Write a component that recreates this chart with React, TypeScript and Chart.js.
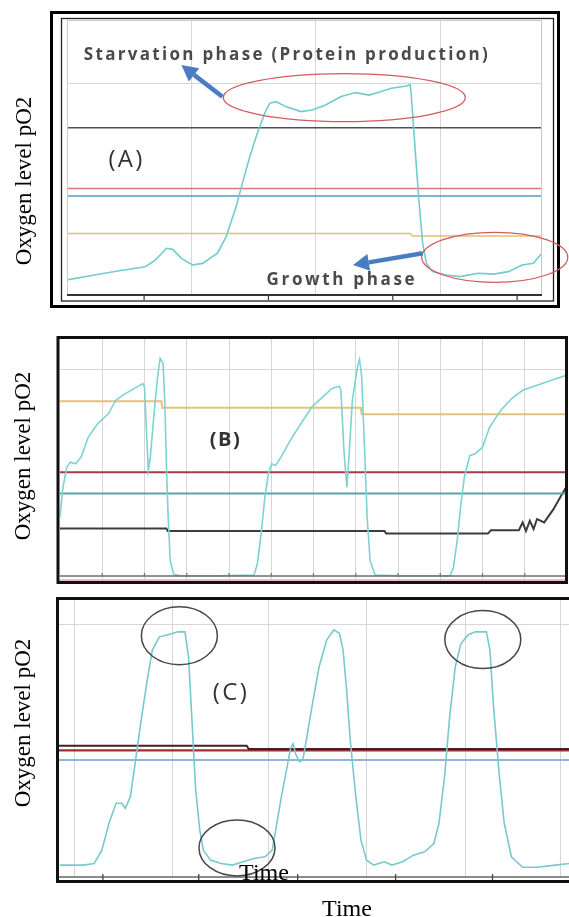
import React, { useEffect, useRef } from "react";
import { Chart, registerables } from "chart.js";

Chart.register(...registerables);

// ---------------- Texts ----------------
const yAxisTitle = "Oxygen level pO2";
const xAxisTitle = "Time";
const starvationLabel = "Starvation phase (Protein production)";
const growthLabel = "Growth phase";
const panelLabels = ["(A)", "(B)", "(C)"];

// ---------------- Panel A (time units 0..3.82, level 0..100) ----------------
const aTime = [0, 0.22, 0.42, 0.63, 0.71, 0.8, 0.85, 0.92, 1.01, 1.09, 1.21, 1.28, 1.36, 1.41, 1.47, 1.53, 1.59, 1.63, 1.68, 1.76, 1.88, 1.97, 2.08, 2.2, 2.32, 2.43, 2.52, 2.61, 2.73, 2.76, 2.77, 2.8, 2.83, 2.86, 2.89, 2.94, 3.05, 3.16, 3.31, 3.43, 3.55, 3.66, 3.75, 3.82];
const aPO2 = [5.5, 7.3, 8.8, 10.3, 12.7, 17, 16.6, 13.3, 10.9, 11.5, 15.2, 21.2, 32.1, 40.6, 50.3, 58.8, 66.1, 69.7, 70.3, 68.5, 66.7, 67.3, 69.1, 72.1, 73.6, 72.7, 73.9, 75.2, 76, 76.4, 72, 52.7, 34.5, 18.8, 11.5, 8.5, 7.3, 6.7, 7.9, 7.6, 8.5, 10.9, 11.5, 15.2];
const aBlackTime = [0, 3.82];
const aBlackLevel = [60.8, 60.8];
const aRedTime = [0, 3.82];
const aRedLevel = [38.7, 38.7];
const aBlueTime = [0, 3.82];
const aBlueLevel = [36, 36];
const aYellowTime = [0, 2.76, 2.78, 3.82];
const aYellowLevel = [22.4, 22.4, 21.5, 21.5];
const aGridTime = [1, 2, 3];
const aGridLevel = [77];
const aMinorTime = [0.62, 1.62, 2.62, 3.62];

// ---------------- Panel B (time units 0..12) ----------------
const bTime = [0, 0.07, 0.16, 0.24, 0.37, 0.5, 0.67, 0.89, 1.15, 1.32, 1.49, 1.75, 1.96, 2.0, 2.05, 2.09, 2.13, 2.22, 2.31, 2.37, 2.44, 2.48, 2.52, 2.56, 2.61, 2.69, 2.87, 3.73, 4.59, 4.67, 4.76, 4.84, 4.93, 5.01, 5.1, 5.23, 5.45, 5.7, 5.96, 6.22, 6.43, 6.61, 6.65, 6.72, 6.79, 6.84, 6.92, 7.04, 7.09, 7.14, 7.21, 7.27, 7.34, 7.46, 8.02, 9.23, 9.31, 9.4, 9.48, 9.57, 9.7, 9.83, 10.0, 10.17, 10.43, 10.69, 10.95, 11.29, 11.63, 12];
const bPO2 = [26.3, 38.7, 47, 49.1, 48.4, 51.2, 59.5, 65, 69.2, 74.7, 76.8, 79.5, 81.6, 80.2, 60.9, 45.6, 49.8, 67.8, 84.4, 92, 89.9, 74.7, 47, 26.3, 8.3, 2.8, 2.1, 2.1, 2.5, 6.9, 19.4, 33.2, 44.3, 48.4, 47.7, 51.2, 58.1, 65, 71.9, 76.1, 79.5, 80.5, 78.8, 53.9, 38.7, 51.2, 74.7, 88.5, 91.6, 84.4, 53.9, 26.3, 8.3, 2.5, 2.1, 2.1, 5.5, 16.6, 30.4, 42.9, 51.9, 52.6, 55.3, 63.6, 70.5, 75.4, 78.8, 80.9, 83, 85.1];
const bYellowTime = [0, 2.4, 2.42, 7.12, 7.14, 12];
const bYellowLevel = [74.3, 74.3, 71.6, 71.6, 68.9, 68.9];
const bRedTime = [0, 12];
const bRedLevel = [44.9, 44.9];
const bTealTime = [0, 12];
const bTealLevel = [36.2, 36.2];
const bBlackTime = [0, 2.52, 2.55, 7.68, 7.72, 10.13, 10.2, 10.86, 10.95, 11.03, 11.12, 11.21, 11.29, 11.46, 11.68, 11.89, 11.98];
const bBlackLevel = [21.7, 21.7, 20.7, 20.7, 19.6, 19.6, 21, 21, 24.2, 20.7, 24.9, 21.5, 25.6, 24.2, 29.7, 36.2, 38.7];
const bPinkTime = [0, 12];
const bPinkLevel = [0.4, 0.4];
const bAxisLevel = 2.1;
const bGridTime = [1, 2, 3, 4, 5, 6, 7, 8, 9, 10, 11];
const bGridLevel = [87.6];

// ---------------- Panel C (time units 0..100) ----------------
const cTime = [0.2, 4.8, 6.9, 8.4, 9.8, 11.2, 12.3, 13.0, 14.0, 15.1, 16.2, 17.3, 18.3, 19.7, 21.2, 22.2, 23.3, 24.7, 25.4, 26.1, 26.8, 27.6, 28.3, 29.7, 31.8, 34.0, 36.1, 38.2, 40.4, 41.8, 42.5, 43.6, 44.6, 45.4, 45.9, 46.4, 47.1, 47.8, 48.5, 49.6, 51.0, 52.5, 53.9, 55.0, 55.7, 56.4, 57.1, 58.2, 59.2, 60.3, 61.7, 63.8, 65.3, 67.4, 69.5, 71.7, 73.5, 74.5, 75.6, 76.6, 77.7, 78.8, 80.2, 81.6, 83.8, 84.5, 85.2, 86.3, 87.3, 88.7, 90.9, 93.7, 97.3, 100];
const cPO2 = [4.3, 4.3, 4.9, 9.7, 19.4, 26.6, 26.6, 24.8, 29, 43.4, 57.8, 71.1, 81.9, 86.7, 87.4, 87.9, 88.5, 88.5, 79.5, 55.5, 31.4, 17, 9.7, 6.1, 4.9, 4.3, 5.5, 6.7, 7.3, 9.7, 17, 29, 38.6, 46.4, 48.1, 44.5, 41.6, 42.2, 49.5, 61.5, 75.9, 85.6, 89.2, 87.9, 81.9, 67.5, 49.5, 29, 13.4, 6.1, 4.3, 5.5, 4.3, 5.5, 7.9, 9.1, 12.1, 19.4, 36.2, 57.8, 75.9, 84.2, 87.4, 88.5, 88.5, 81.9, 61.5, 37.4, 19.4, 7.3, 3.5, 3.5, 4.3, 4.9];
const cBlackTime = [0, 36.8, 37.2, 100];
const cBlackLevel = [47.4, 47.4, 46.2, 46.2];
const cRedTime = [0, 100];
const cRedLevel = [45.7, 45.7];
const cBlueTime = [0, 100];
const cBlueLevel = [42.2, 42.2];
const cGridTime = [3.0, 22.2, 41.1, 60.3, 79.7, 98.4];
const cGridLevel = [91];
const cMinorTime = [8.6, 27.4, 46.8, 66.0, 85.0];

// annotation anchors (data units)
const aEllipseTop = { t: 2.23, v: 71.8 };
const aEllipseBottom = { t: 3.44, v: 13.7 };
const aArrowTop = { fromT: 1.25, fromV: 72.1, toT: 0.92, toV: 83.6 };
const aArrowBottom = { fromT: 2.86, fromV: 15.2, toT: 2.3, toV: 10.9 };
const aStarvationAt = { t: 1.76, v: 87.3 };
const aGrowthAt = { t: 2.2, v: 5.5 };
const aLabelAt = { t: 0.47, v: 49.1 };
const bLabelAt = { t: 3.9, v: 58 };
const cLabelAt = { t: 33.5, v: 66.3 };
const cCircles = [
  { t: 23.6, v: 87.1 },
  { t: 83.1, v: 85.7 },
  { t: 34.9, v: 10.5 },
];

// ---------------- helpers ----------------
type Series = { x: number[]; y: number[]; color: string; width: number };

function ellipse(ctx: CanvasRenderingContext2D, cx: number, cy: number, rx: number, ry: number, color: string, lw: number) {
  ctx.save();
  ctx.strokeStyle = color;
  ctx.lineWidth = lw;
  ctx.beginPath();
  ctx.ellipse(cx, cy, rx, ry, 0, 0, Math.PI * 2);
  ctx.stroke();
  ctx.restore();
}

function arrow(ctx: CanvasRenderingContext2D, x1: number, y1: number, x2: number, y2: number, color: string) {
  const ang = Math.atan2(y2 - y1, x2 - x1);
  const head = 16;
  const half = 8.5;
  const bx = x2 - head * Math.cos(ang);
  const by = y2 - head * Math.sin(ang);
  ctx.save();
  ctx.strokeStyle = color;
  ctx.fillStyle = color;
  ctx.lineWidth = 4.5;
  ctx.lineCap = "butt";
  ctx.beginPath();
  ctx.moveTo(x1, y1);
  ctx.lineTo(bx, by);
  ctx.stroke();
  ctx.beginPath();
  ctx.moveTo(x2, y2);
  ctx.lineTo(bx + half * Math.sin(ang), by - half * Math.cos(ang));
  ctx.lineTo(bx - half * Math.sin(ang), by + half * Math.cos(ang));
  ctx.closePath();
  ctx.fill();
  ctx.restore();
}

function spacedText(ctx: CanvasRenderingContext2D, text: string, cx: number, cy: number, font: string, color: string, width: number) {
  ctx.save();
  ctx.font = font;
  const m = ctx.measureText(text).width;
  const n = Math.max(1, text.length - 1);
  const gap = (width - m) / n;
  ctx.fillStyle = color;
  ctx.textBaseline = "middle";
  ctx.textAlign = "left";
  let x = cx - width / 2;
  for (const ch of text) {
    ctx.fillText(ch, x, cy);
    x += ctx.measureText(ch).width + gap;
  }
  ctx.restore();
}

function yTitle(ctx: CanvasRenderingContext2D, cx: number, cy: number) {
  ctx.save();
  ctx.translate(cx, cy);
  ctx.rotate(-Math.PI / 2);
  ctx.font = '23px "Liberation Serif"';
  ctx.fillStyle = "#000";
  ctx.textAlign = "center";
  ctx.textBaseline = "middle";
  ctx.fillText(yAxisTitle, 0, 0);
  ctx.restore();
}

function serifText(ctx: CanvasRenderingContext2D, text: string, cx: number, baseline: number) {
  ctx.save();
  ctx.font = '24px "Liberation Serif"';
  ctx.fillStyle = "#000";
  ctx.textAlign = "center";
  ctx.textBaseline = "alphabetic";
  ctx.fillText(text, cx, baseline);
  ctx.restore();
}

function minorTicks(ctx: CanvasRenderingContext2D, xs: number[], px: (v: number) => number, y0: number, y1: number, color: string) {
  ctx.save();
  ctx.strokeStyle = color;
  ctx.lineWidth = 1.3;
  xs.forEach((t) => {
    ctx.beginPath();
    ctx.moveTo(px(t), y0);
    ctx.lineTo(px(t), y1);
    ctx.stroke();
  });
  ctx.restore();
}

type PanelCfg = {
  series: Series[];
  xMin: number;
  xMax: number;
  gridX: number[];
  gridY: number[];
  padding: { left: number; right: number; top: number; bottom: number };
  decorate: (c: Chart) => void;
};

function makeChart(canvas: HTMLCanvasElement, cfg: PanelCfg) {
  return new Chart(canvas, {
    type: "line",
    data: {
      datasets: cfg.series.map((s) => ({
        data: s.x.map((x, i) => ({ x, y: s.y[i] })),
        borderColor: s.color,
        borderWidth: s.width,
        pointRadius: 0,
        tension: 0,
        fill: false,
      })),
    },
    options: {
      responsive: false,
      animation: false,
      devicePixelRatio: 1,
      events: [],
      layout: { padding: cfg.padding },
      plugins: { legend: { display: false }, tooltip: { enabled: false } },
      scales: {
        x: {
          type: "linear",
          min: cfg.xMin,
          max: cfg.xMax,
          afterBuildTicks: (s: any) => {
            s.ticks = cfg.gridX.map((v) => ({ value: v }));
          },
          ticks: { display: false },
          grid: { color: "#d6d6d6", lineWidth: 1, drawTicks: false },
          border: { display: false },
        },
        y: {
          type: "linear",
          min: 0,
          max: 100,
          afterBuildTicks: (s: any) => {
            s.ticks = cfg.gridY.map((v) => ({ value: v }));
          },
          ticks: { display: false },
          grid: { color: "#d6d6d6", lineWidth: 1, drawTicks: false },
          border: { display: false },
        },
      },
    } as any,
    plugins: [
      {
        id: "decorations",
        afterDraw: (c: Chart) => cfg.decorate(c),
      },
    ],
  });
}

// ---------------- panels ----------------
const panelA = (): PanelCfg => ({
  series: [
    { x: aTime, y: aPO2, color: "#72cbcc", width: 1.6 },
    { x: aBlackTime, y: aBlackLevel, color: "#505050", width: 1.6 },
    { x: aRedTime, y: aRedLevel, color: "#de7474", width: 1.5 },
    { x: aBlueTime, y: aBlueLevel, color: "#4e9fc2", width: 1.5 },
    { x: aYellowTime, y: aYellowLevel, color: "#e6be6c", width: 1.5 },
  ],
  xMin: 0,
  xMax: 3.82,
  gridX: aGridTime,
  gridY: aGridLevel,
  padding: { left: 67, right: 27, top: 20, bottom: 25 },
  decorate: (c) => {
    const ctx = c.ctx;
    const a = c.chartArea;
    const px = (v: number) => c.scales.x.getPixelForValue(v);
    const py = (v: number) => c.scales.y.getPixelForValue(v);
    ctx.save();
    ctx.strokeStyle = "#c9c9c9";
    ctx.lineWidth = 1;
    ctx.strokeRect(a.left + 0.5, a.top + 0.5, a.right - a.left - 1, a.bottom - a.top);
    ctx.strokeStyle = "#333";
    ctx.lineWidth = 2;
    ctx.beginPath();
    ctx.moveTo(a.left, a.bottom);
    ctx.lineTo(a.right, a.bottom);
    ctx.stroke();
    ctx.strokeStyle = "#222";
    ctx.lineWidth = 1.3;
    ctx.strokeRect(a.left - 5.5, a.top - 1.5, a.right - a.left + 17, a.bottom - a.top + 7.5);
    ctx.strokeStyle = "#000";
    ctx.lineWidth = 3;
    ctx.strokeRect(a.left - 15.5, a.top - 7.5, a.right - a.left + 32, a.bottom - a.top + 19);
    ctx.restore();
    minorTicks(ctx, aMinorTime, px, a.bottom, a.bottom + 5, "#444");

    ellipse(ctx, px(aEllipseTop.t), py(aEllipseTop.v), 121, 24, "#d25c5c", 1.3);
    ellipse(ctx, px(aEllipseBottom.t), py(aEllipseBottom.v), 73, 25, "#d25c5c", 1.3);
    arrow(ctx, px(aArrowTop.fromT), py(aArrowTop.fromV), px(aArrowTop.toT), py(aArrowTop.toV), "#4a7cc4");
    arrow(ctx, px(aArrowBottom.fromT), py(aArrowBottom.fromV), px(aArrowBottom.toT), py(aArrowBottom.toV), "#4a7cc4");
    spacedText(ctx, starvationLabel, px(aStarvationAt.t), py(aStarvationAt.v), 'bold 17px "Open Sans"', "#4a4a4a", 404);
    spacedText(ctx, growthLabel, px(aGrowthAt.t), py(aGrowthAt.v), 'bold 17px "Open Sans"', "#4a4a4a", 148);
    spacedText(ctx, panelLabels[0], px(aLabelAt.t), py(aLabelAt.v), '24px "Open Sans"', "#333", 34);
    yTitle(ctx, 25, 181);
  },
});

const panelB = (): PanelCfg => ({
  series: [
    { x: bTime, y: bPO2, color: "#7dd2d2", width: 1.6 },
    { x: bYellowTime, y: bYellowLevel, color: "#e4c27c", width: 2 },
    { x: bRedTime, y: bRedLevel, color: "#a83a4c", width: 2 },
    { x: bTealTime, y: bTealLevel, color: "#5f9fa9", width: 2 },
    { x: bBlackTime, y: bBlackLevel, color: "#3c3c3c", width: 2 },
    { x: bPinkTime, y: bPinkLevel, color: "#eaa3b5", width: 1.5 },
  ],
  xMin: 0,
  xMax: 12,
  gridX: bGridTime,
  gridY: bGridLevel,
  padding: { left: 60, right: 2, top: 19, bottom: 9 },
  decorate: (c) => {
    const ctx = c.ctx;
    const a = c.chartArea;
    const px = (v: number) => c.scales.x.getPixelForValue(v);
    const py = (v: number) => c.scales.y.getPixelForValue(v);
    ctx.save();
    ctx.strokeStyle = "#6e6e6e";
    ctx.lineWidth = 1.5;
    ctx.beginPath();
    ctx.moveTo(a.left, py(bAxisLevel));
    ctx.lineTo(a.right, py(bAxisLevel));
    ctx.stroke();
    ctx.restore();
    minorTicks(ctx, bGridTime, px, py(bAxisLevel) - 3, py(bAxisLevel), "#777");
    ctx.save();
    ctx.strokeStyle = "#111";
    ctx.lineWidth = 3;
    ctx.strokeRect(a.left - 2, a.top - 1.5, a.right - a.left + 1.5, a.bottom - a.top + 3);
    ctx.restore();
    spacedText(ctx, panelLabels[1], px(bLabelAt.t), py(bLabelAt.v), 'bold 20px "Open Sans"', "#333", 30);
    yTitle(ctx, 24, 136);
  },
});

const panelC = (): PanelCfg => ({
  series: [
    { x: cTime, y: cPO2, color: "#78c9cd", width: 1.6 },
    { x: cBlackTime, y: cBlackLevel, color: "#3a2424", width: 2 },
    { x: cRedTime, y: cRedLevel, color: "#9c3030", width: 2.2 },
    { x: cBlueTime, y: cBlueLevel, color: "#8db7dc", width: 2 },
  ],
  xMin: 0,
  xMax: 100,
  gridX: cGridTime,
  gridY: cGridLevel,
  padding: { left: 59, right: 0, top: 10, bottom: 40 },
  decorate: (c) => {
    const ctx = c.ctx;
    const a = c.chartArea;
    const px = (v: number) => c.scales.x.getPixelForValue(v);
    const py = (v: number) => c.scales.y.getPixelForValue(v);
    ctx.save();
    ctx.strokeStyle = "#666";
    ctx.lineWidth = 1.5;
    ctx.beginPath();
    ctx.moveTo(a.left, a.bottom);
    ctx.lineTo(a.right, a.bottom);
    ctx.stroke();
    ctx.restore();
    minorTicks(ctx, cMinorTime, px, a.bottom - 3, a.bottom + 3, "#444");
    cCircles.forEach((o, i) => ellipse(ctx, px(o.t), py(o.v), 38, i === 2 ? 28 : 29, "#474747", 1.5));
    ctx.save();
    ctx.strokeStyle = "#111";
    ctx.lineWidth = 3;
    ctx.beginPath();
    ctx.moveTo(a.right + 2, a.top - 1.5);
    ctx.lineTo(a.left - 1.5, a.top - 1.5);
    ctx.lineTo(a.left - 1.5, a.bottom + 4.5);
    ctx.lineTo(a.right + 2, a.bottom + 4.5);
    ctx.stroke();
    ctx.restore();
    spacedText(ctx, panelLabels[2], px(cLabelAt.t), py(cLabelAt.v), '24px "Open Sans"', "#333", 34);
    serifText(ctx, xAxisTitle, a.left + 205, a.bottom + 3);
    serifText(ctx, xAxisTitle, a.left + 288, a.bottom + 39);
    yTitle(ctx, 24, 133);
  },
});

export default function App() {
  const refA = useRef<HTMLCanvasElement>(null);
  const refB = useRef<HTMLCanvasElement>(null);
  const refC = useRef<HTMLCanvasElement>(null);

  useEffect(() => {
    const charts = [
      makeChart(refA.current as HTMLCanvasElement, panelA()),
      makeChart(refB.current as HTMLCanvasElement, panelB()),
      makeChart(refC.current as HTMLCanvasElement, panelC()),
    ];
    return () => charts.forEach((ch) => ch.destroy());
  }, []);

  return (
    <div style={{ position: "absolute", left: 0, top: 0, width: 569, height: 917, background: "#fff", overflow: "hidden" }}>
      <canvas ref={refA} width={569} height={320} style={{ position: "absolute", left: 0, top: 0 }} />
      <canvas ref={refB} width={569} height={270} style={{ position: "absolute", left: 0, top: 320 }} />
      <canvas ref={refC} width={569} height={327} style={{ position: "absolute", left: 0, top: 590 }} />
    </div>
  );
}
